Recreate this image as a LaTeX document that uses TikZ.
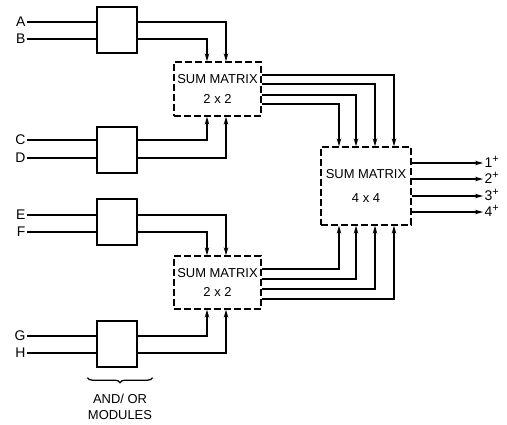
\documentclass[tikz,border=0pt]{standalone}
\usepackage{fontspec}
\setmainfont{Liberation Sans}
\usetikzlibrary{arrows.meta,calc,decorations.pathreplacing}
\begin{document}
\begin{tikzpicture}[x=1bp,y=-1bp, line width=1.3bp,
  mod/.style={draw, minimum width=40bp, minimum height=46bp, inner sep=0pt},
  sm/.style={draw, dash pattern=on 7bp off 3bp, inner sep=0pt, align=center,
    font=\fontsize{13}{20}\selectfont},
  arr/.style={-{Stealth[length=8bp,width=4.5bp]}},
  lbl/.style={font=\fontsize{14}{14}\selectfont, inner sep=1bp}]
\useasboundingbox (0,0) rectangle (507,424);
% column / row helpers
\coordinate (xa) at (207,0);
\coordinate (xb) at (226,0);
\coordinate (x1) at (339,0);
\coordinate (x2) at (356,0);
\coordinate (x3) at (375,0);
\coordinate (x4) at (394,0);
\coordinate (ya1) at (0,75);
\coordinate (ya2) at (0,84);
\coordinate (ya3) at (0,95);
\coordinate (ya4) at (0,104);
\coordinate (yb1) at (0,269);
\coordinate (yb2) at (0,279);
\coordinate (yb3) at (0,289);
\coordinate (yb4) at (0,299);
% modules
\node[mod] (m1) at (117,30) {};
\node[mod] (m2) at (117,150) {};
\node[mod] (m3) at (117,222) {};
\node[mod] (m4) at (117,344) {};
% sum matrices
\node[sm, minimum width=87bp, minimum height=54bp] (s1) at (217.5,89) {SUM MATRIX\\2 x 2};
\node[sm, minimum width=87bp, minimum height=53bp] (s2) at (217.5,282.5) {SUM MATRIX\\2 x 2};
\node[sm, minimum width=90bp, minimum height=78bp, font=\fontsize{13}{24}\selectfont] (s3) at (366,186) {SUM MATRIX\\4 x 4};
% input labels
\node[lbl, anchor=east] (A) at (27,22) {A};
\node[lbl, anchor=east] (B) at (27,39) {B};
\node[lbl, anchor=east] (C) at (27,140) {C};
\node[lbl, anchor=east] (D) at (27,158) {D};
\node[lbl, anchor=east] (E) at (27,215) {E};
\node[lbl, anchor=east] (F) at (27,232) {F};
\node[lbl, anchor=east] (G) at (27,336) {G};
\node[lbl, anchor=east] (H) at (27,353) {H};
\foreach \l/\m in {A/m1,B/m1,C/m2,D/m2,E/m3,F/m3,G/m4,H/m4}
  \draw (\l.east) -- (\l.east -| \m.west);
% module outputs to 2x2
\draw[arr] (m1.east |- A.east) -| (s1.north -| xb);
\draw[arr] (m1.east |- B.east) -| (s1.north -| xa);
\draw[arr] (m2.east |- C.east) -| (s1.south -| xa);
\draw[arr] (m2.east |- D.east) -| (s1.south -| xb);
\draw[arr] (m3.east |- E.east) -| (s2.north -| xb);
\draw[arr] (m3.east |- F.east) -| (s2.north -| xa);
\draw[arr] (m4.east |- G.east) -| (s2.south -| xa);
\draw[arr] (m4.east |- H.east) -| (s2.south -| xb);
% 2x2 to 4x4
\draw[arr] (s1.east |- ya1) -| (s3.north -| x4);
\draw[arr] (s1.east |- ya2) -| (s3.north -| x3);
\draw[arr] (s1.east |- ya3) -| (s3.north -| x2);
\draw[arr] (s1.east |- ya4) -| (s3.north -| x1);
\draw[arr] (s2.east |- yb1) -| (s3.south -| x1);
\draw[arr] (s2.east |- yb2) -| (s3.south -| x2);
\draw[arr] (s2.east |- yb3) -| (s3.south -| x3);
\draw[arr] (s2.east |- yb4) -| (s3.south -| x4);
% outputs
\node[lbl, anchor=west] (o1) at (483,163) {1\smash{\raisebox{5bp}{\fontsize{11}{11}\selectfont+}}};
\node[lbl, anchor=west] (o2) at (483,179) {2\smash{\raisebox{5bp}{\fontsize{11}{11}\selectfont+}}};
\node[lbl, anchor=west] (o3) at (483,196) {3\smash{\raisebox{5bp}{\fontsize{11}{11}\selectfont+}}};
\node[lbl, anchor=west] (o4) at (483,212) {4\smash{\raisebox{5bp}{\fontsize{11}{11}\selectfont+}}};
\foreach \o in {o1,o2,o3,o4}
  \draw[arr] (s3.east |- \o.west) -- (\o.west);
% brace and caption
\draw[decorate, decoration={brace, mirror, amplitude=5bp}]
  ($(m4.south west)+(-9,10)$) -- ($(m4.south east)+(15,10)$);
\node[lbl, align=center, font=\fontsize{13}{16}\selectfont] (cap) at (120,407) {AND/ OR\\MODULES};
\end{tikzpicture}
\end{document}
